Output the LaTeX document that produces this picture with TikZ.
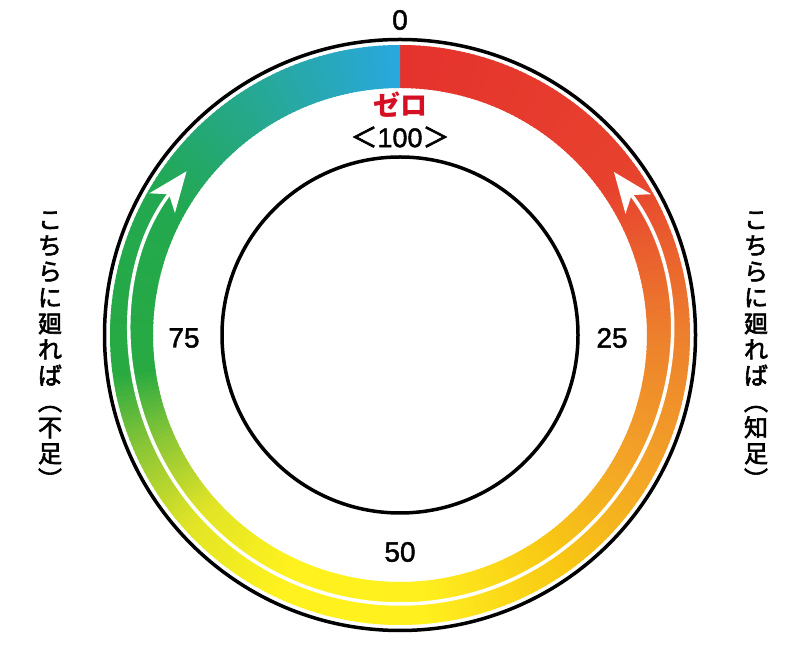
\documentclass[tikz,border=0pt]{standalone}
\usepackage{fontspec}
\setmainfont{Liberation Sans}
\newfontfamily\numfont[FakeBold=1.6]{Liberation Sans}
\newfontfamily\jp{Noto Sans CJK JP}
\newfontfamily\jpm[FakeBold=2.5]{Noto Sans CJK JP}
\usetikzlibrary{arrows.meta,calc}
\definecolor{s0}{RGB}{229,50,45}
\definecolor{s1}{RGB}{231,66,46}
\definecolor{s2}{RGB}{237,128,45}
\definecolor{s3}{RGB}{243,165,38}
\definecolor{s4}{RGB}{248,200,20}
\definecolor{s5}{RGB}{255,240,30}
\definecolor{s6}{RGB}{255,242,30}
\definecolor{s7}{RGB}{225,228,38}
\definecolor{s8}{RGB}{135,197,55}
\definecolor{s9}{RGB}{40,170,65}
\definecolor{s10}{RGB}{34,168,80}
\definecolor{s11}{RGB}{38,168,150}
\definecolor{s12}{RGB}{41,168,224}
\definecolor{zerored}{RGB}{214,16,36}
\newcommand\bandseg[5]{% first, last-index, span-end, colA, colB
  \foreach \t in {#1,...,#2}{%
    \pgfmathsetmacro\pp{(\t-#1)/(#3-#1)*100}%
    \colorlet{bandc}{#5!\pp!#4}%
    \pgfmathsetmacro\aa{\t==0 ? 90 : 90-\t+0.4}%
    \pgfmathsetmacro\bb{90-\t-1}%
    \fill[bandc] (C) ++(\aa:247) arc[start angle=\aa, end angle=\bb, radius=247]
      -- ($(C)+(\bb:290)$) arc[start angle=\bb, end angle=\aa, radius=290] -- cycle;
  }}
\tikzset{
  ring/.style={draw=black, line width=3.5pt},
  num/.style={font=\numfont\fontsize{28}{30}\selectfont, inner sep=0pt},
  vcol/.style={font=\jpm\fontsize{24}{26}\selectfont, align=center, inner sep=0pt},
  whitearrow/.style={draw=white, line width=3.5pt,
    {Stealth[length=40pt, width=32pt, inset=11pt]}-{Stealth[length=40pt, width=32pt, inset=11pt]}}
}
\begin{document}
\begin{tikzpicture}[x=1pt, y=1pt]
\useasboundingbox (0,0) rectangle (800,653);
\coordinate (C) at (400,318);
% colour band
\bandseg{0}{54}{55}{s0}{s1}
\bandseg{55}{89}{90}{s1}{s2}
\bandseg{90}{119}{120}{s2}{s3}
\bandseg{120}{144}{145}{s3}{s4}
\bandseg{145}{174}{175}{s4}{s5}
\bandseg{175}{204}{205}{s5}{s6}
\bandseg{205}{227}{228}{s6}{s7}
\bandseg{228}{246}{247}{s7}{s8}
\bandseg{247}{261}{262}{s8}{s9}
\bandseg{262}{299}{300}{s9}{s10}
\bandseg{300}{329}{330}{s10}{s11}
\bandseg{330}{359}{360}{s11}{s12}
% circles
\draw[ring] (C) circle[radius=295.5];
\draw[ring] (C) circle[radius=178];
% white arrow
\coordinate (aR) at ($(C)+(37.3:269)$);
\draw[whitearrow] (aR) arc[start angle=37.3, end angle=-217.5, radius=269];
% labels
\node[num] (n0) at (400,633) {0};
\node[font=\jp\bfseries\fontsize{27}{29}\selectfont, text=zerored, inner sep=0pt] (zero) at (400,548) {ゼロ};
\node[font=\numfont\fontsize{27}{29}\selectfont, inner sep=0pt] (n100) at (400,516) {{\jpm ＜}100{\jpm ＞}};
\node[num] (n75) at (184,315) {75};
\node[num] (n25) at (612,315) {25};
\node[num] (n50) at (400,101) {50};
\node[vcol] (left) at (50,303) {こ\\ち\\ら\\に\\廻\\れ\\ば\\︵\\不\\足\\︶};
\node[vcol] (right) at (756,303) {こ\\ち\\ら\\に\\廻\\れ\\ば\\︵\\知\\足\\︶};
\end{tikzpicture}
\end{document}
